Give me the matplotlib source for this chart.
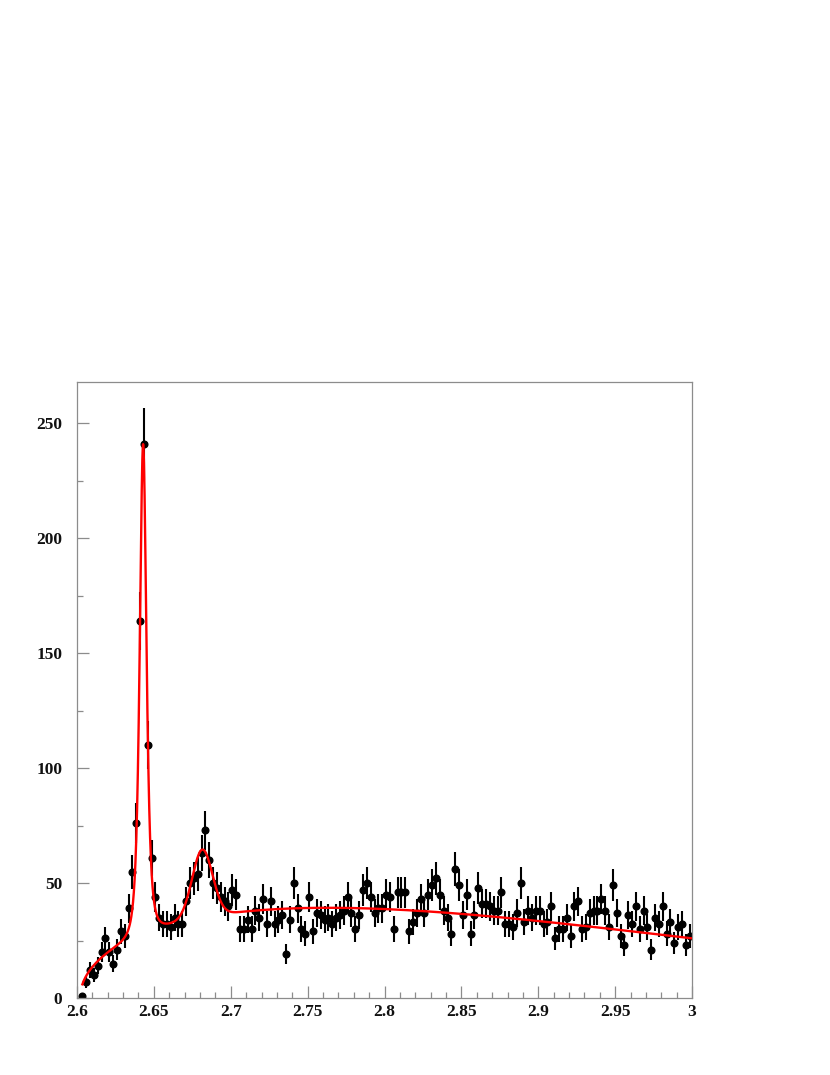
import numpy as np
import matplotlib
matplotlib.use("Agg")
import matplotlib.pyplot as plt
from matplotlib.ticker import MultipleLocator, FuncFormatter

# histogram: bin centres start / width, counts
bin_start = 2.6035
bin_width = 0.0025
counts = [1, 7, 12, 10, 14, 20, 26, 20, 15, 21, 29, 27, 39, 55, 76, 164, 241, 110, 61, 44,
          35, 32, 32, 31, 35, 32, 32, 42, 50, 52, 54, 63, 73, 60, 50, 48, 44, 42, 40, 47,
          45, 30, 30, 34, 30, 38, 35, 43, 32, 42, 32, 34, 36, 19, 34, 50, 39, 30, 28, 44,
          29, 37, 36, 34, 35, 32, 35, 36, 38, 44, 37, 30, 36, 47, 50, 44, 37, 39, 39, 45,
          44, 30, 46, 46, 46, 29, 33, 37, 43, 37, 45, 49, 52, 45, 38, 35, 28, 56, 49, 36,
          45, 28, 36, 48, 41, 41, 40, 38, 38, 46, 32, 32, 31, 37, 50, 33, 38, 35, 38, 38,
          32, 33, 40, 26, 30, 30, 35, 27, 40, 42, 30, 31, 37, 38, 38, 43, 38, 31, 49, 37,
          27, 23, 36, 32, 40, 30, 38, 31, 21, 35, 32, 40, 28, 33, 24, 31, 32, 23, 27]

# fit parameters (threshold background + two peaks)
thr = 2.6020
bg_coef = [153.6, -390.0, 270.0]
pk1_amp, pk1_mean, pk1_w = 213.0, 2.6430, 0.0040
pk2_amp, pk2_mean, pk2_sig = 29.5, 2.6815, 0.0066

counts = np.array(counts, dtype=float)
x = bin_start + bin_width * np.arange(len(counts))
err = np.sqrt(counts)

def fit_func(m):
    u = np.clip(m - thr, 0, None)
    bg = np.sqrt(u) * (bg_coef[0] + bg_coef[1] * u + bg_coef[2] * u ** 2)
    pk1 = pk1_amp / (1 + ((m - pk1_mean) / pk1_w) ** 2) ** 2
    pk2 = pk2_amp * np.exp(-0.5 * ((m - pk2_mean) / pk2_sig) ** 2)
    return bg + pk1 + pk2

xf = np.linspace(bin_start, 3.0, 3000)

fig = plt.figure(figsize=(8.3, 10.75), dpi=100)
ax = fig.add_axes([77 / 830, 77 / 1075, 615 / 830, 616 / 1075])

ax.errorbar(x, counts, yerr=err, fmt='o', color='black', ms=4.8,
            elinewidth=1.5, capsize=0, zorder=2)
ax.plot(xf, fit_func(xf), color='red', lw=1.7, zorder=3)

ax.set_xlim(2.6, 3.0)
ax.set_ylim(0, 268)

grey = '#8c8c8c'
for s in ax.spines.values():
    s.set_color(grey)
    s.set_linewidth(0.9)

ax.xaxis.set_major_locator(MultipleLocator(0.05))
ax.xaxis.set_minor_locator(MultipleLocator(0.01))
ax.yaxis.set_major_locator(MultipleLocator(50))
ax.yaxis.set_minor_locator(MultipleLocator(25))
ax.xaxis.set_major_formatter(FuncFormatter(lambda v, p: '%g' % round(v, 3)))
ax.tick_params(which='both', direction='in', color=grey, width=0.9,
               top=False, right=False)
ax.tick_params(which='major', length=8.4)
ax.tick_params(which='minor', length=4.0)
ax.tick_params(axis='y', which='major', pad=10.5)
ax.tick_params(axis='x', which='major', pad=4.5)

for lab in ax.get_xticklabels() + ax.get_yticklabels():
    lab.set_fontfamily('Liberation Serif')
    lab.set_fontweight('bold')
    lab.set_fontsize(12.5)
    lab.set_color('#111111')

fig.savefig('out.png', dpi=100)
